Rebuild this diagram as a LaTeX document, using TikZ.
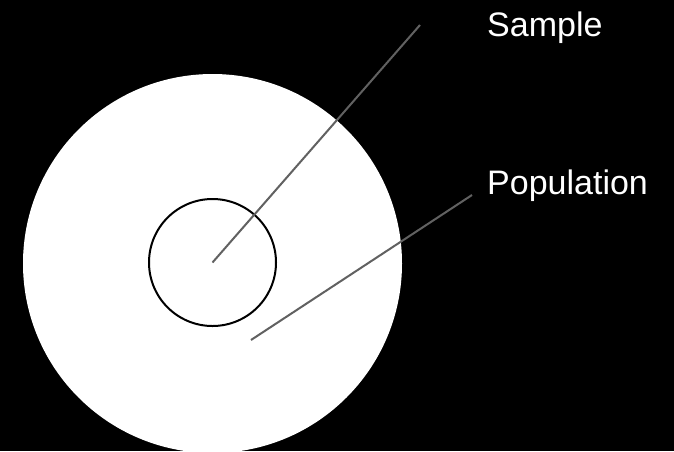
\documentclass[tikz,border=0pt]{standalone}
\usepackage{fontspec}
\setmainfont{Liberation Sans}
\usetikzlibrary{positioning}

\begin{document}
\begin{tikzpicture}[
  x=1pt, y=-1pt,
  population/.style={circle, fill=white, minimum size=379pt, inner sep=0pt},
  sample/.style={circle, draw=black, line width=2pt, minimum size=127pt, inner sep=0pt},
  label/.style={text=white, font=\fontsize{34}{40}\selectfont, inner sep=0pt, anchor=base west},
  leader/.style={draw=black!62, line width=2pt}
]

\fill[black] (0,0) rectangle (674,451);
\useasboundingbox (0,0) rectangle (674,451);

\node[population] (pop) at (212.5, 263.5) {};
\node[sample] (smp) at (212.5, 262.5) {};

\node[label] (lsmp) at (487, 36)  {Sample};
\node[label] (lpop) at (487, 194) {Population};

\coordinate (smptip) at (420, 25);
\coordinate (poptip) at (472, 195);
\coordinate (popin) at (251, 340);

\draw[leader] (smp.center) -- (smptip);
\draw[leader] (popin) -- (poptip);

\end{tikzpicture}
\end{document}
